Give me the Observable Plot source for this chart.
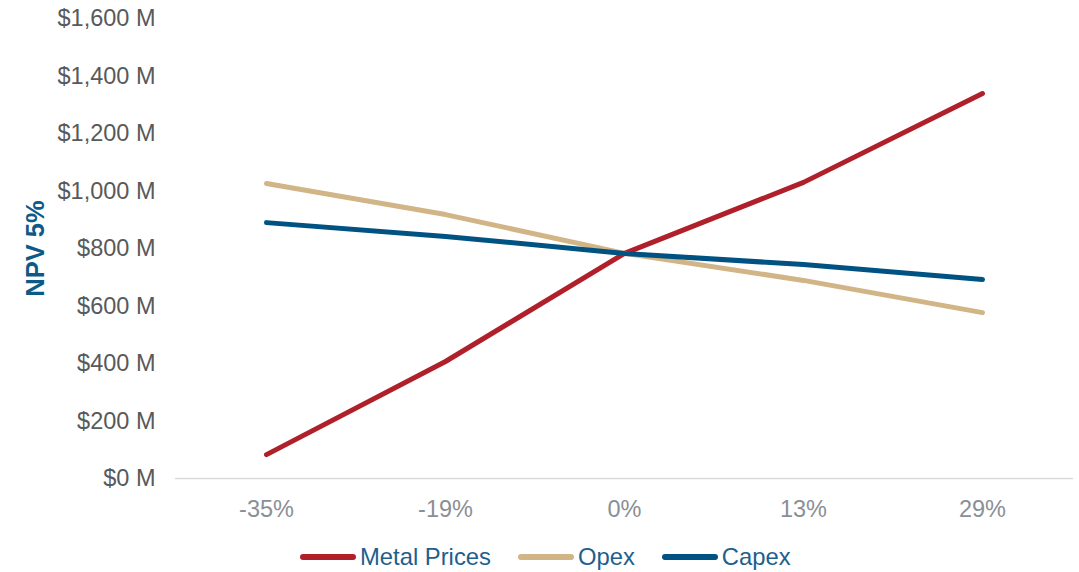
<!DOCTYPE html>
<html><head><meta charset="utf-8">
<script src="https://cdn.jsdelivr.net/npm/d3@7"></script>
<script src="https://cdn.jsdelivr.net/npm/@observablehq/plot@0.6"></script>
<style>
body{margin:0;background:#fff;font-family:"Liberation Sans",Arial,sans-serif;}
#wrap{position:relative;width:1079px;height:572px;}
#legend{position:absolute;top:544px;left:300px;display:flex;align-items:center;font-size:23.8px;color:#1f5f8b;height:26px;}
.item{display:flex;align-items:center;margin-right:27px;}
.sw{width:56px;height:6px;border-radius:3px;margin-right:4px;}
</style></head><body><div id="wrap"><div id="chart"></div><div id="legend"></div></div>
<script>
const categories = ["-35%", "-19%", "0%", "13%", "29%"];
const seriesNames = ["Metal Prices", "Opex", "Capex"];
const metalPrices = [83, 407, 783, 1030, 1339];
const opex = [1026, 918, 783, 689, 577];
const capex = [890, 842, 783, 744, 692];
const colors = ["#b0202a", "#d2b587", "#005282"];
const yTicks = [0, 200, 400, 600, 800, 1000, 1200, 1400, 1600];

const seriesValues = [metalPrices, opex, capex];
const data = [];
seriesNames.forEach((s, i) => categories.forEach((c, j) => data.push({series: s, cat: c, value: seriesValues[i][j]})));

const fmt = d3.format(",");
const chart = Plot.plot({
  width: 1079, height: 530,
  marginTop: 18, marginBottom: 52, marginLeft: 175, marginRight: 6,
  style: {fontFamily: '"Liberation Sans", Arial, sans-serif', fontSize: "23.5px", background: "#fff"},
  x: {type: "point", domain: categories, padding: 0.5},
  y: {domain: [0, 1600]},
  color: {domain: seriesNames, range: colors},
  marks: [
    Plot.ruleY([0], {stroke: "#d9d9d9", strokeWidth: 1.5}),
    Plot.axisY({ticks: yTicks, tickSize: 0, tickPadding: 20, tickFormat: d => `$${fmt(d)} M`, color: "#595959", label: null}),
    Plot.axisX({tickSize: 0, tickPadding: 22, color: "#8a8f95", label: null}),
    Plot.text(["NPV 5%"], {frameAnchor: "left", dx: -140, rotate: -90, textAnchor: "middle", fontWeight: "bold", fill: "#0d5a86", fontSize: 25.5}),
    Plot.line(data, {x: "cat", y: "value", z: "series", stroke: "series", strokeWidth: 5, strokeLinecap: "round", strokeLinejoin: "round"})
  ]
});
document.getElementById("chart").appendChild(chart);

const legend = document.getElementById("legend");
seriesNames.forEach((s, i) => {
  const it = document.createElement("div"); it.className = "item";
  const sw = document.createElement("div"); sw.className = "sw"; sw.style.background = colors[i];
  const t = document.createElement("span"); t.textContent = s;
  it.appendChild(sw); it.appendChild(t); legend.appendChild(it);
});
</script></body></html>
